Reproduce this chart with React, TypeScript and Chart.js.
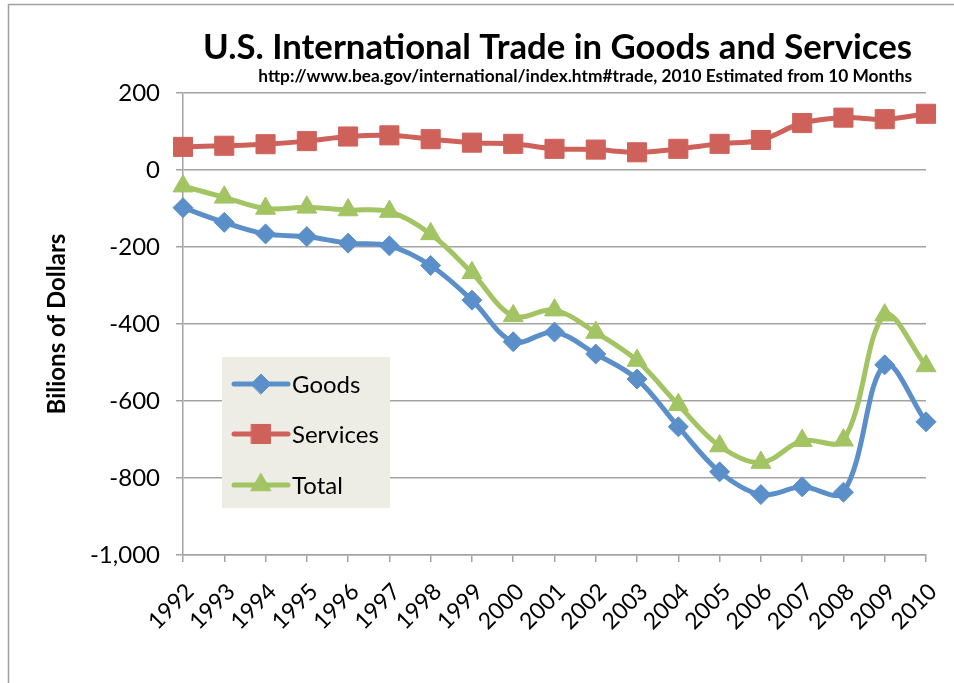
import React, { useEffect, useRef } from 'react';
import { Chart, registerables } from 'chart.js';
import { drawPoint } from 'chart.js/helpers';

Chart.register(...registerables);

const years = ['1992', '1993', '1994', '1995', '1996', '1997', '1998', '1999', '2000', '2001', '2002', '2003', '2004', '2005', '2006', '2007', '2008', '2009', '2010'];
const goods = [-98, -136, -166, -173, -190, -197, -248, -338, -446, -421, -478, -543, -667, -784, -843, -823, -837, -506, -654];
const services = [60, 63, 67, 75, 87, 90, 80, 71, 68, 55, 53, 46, 55, 68, 78, 122, 136, 132, 146];
const total = [-42, -71, -100, -97, -104, -108, -166, -267, -379, -364, -422, -495, -610, -717, -760, -703, -702, -377, -509];

const yMin = -1000;
const yMax = 200;
const yStep = 200;

const titleText = 'U.S. International Trade in Goods and Services';
const subtitleText = 'http://www.bea.gov/international/index.htm#trade, 2010 Estimated from 10 Months';
const yTitle = 'Bilions of Dollars';

const BLUE = '#5B8FCA';
const RED = '#CF615B';
const GREEN = '#A2C462';
const GRID = '#A3A3A3';
const FONT = 'Lato, "Open Sans", sans-serif';

function fitFont(ctx: CanvasRenderingContext2D, text: string, weight: string, width: number) {
  ctx.font = `${weight} 100px ${FONT}`;
  const w = ctx.measureText(text).width;
  return (100 * width) / w;
}

const framePlugin = {
  id: 'frame',
  beforeDraw(chart: any) {
    const ctx = chart.ctx;
    ctx.save();
    ctx.fillStyle = '#ffffff';
    ctx.fillRect(0, 0, chart.width, chart.height);
    ctx.strokeStyle = '#A0A0A0';
    ctx.lineWidth = 1.5;
    ctx.beginPath();
    ctx.moveTo(8.5, chart.height);
    ctx.lineTo(8.5, 4.5);
    ctx.lineTo(chart.width, 4.5);
    ctx.stroke();
    ctx.restore();
  },
};

const titlesPlugin = {
  id: 'titles',
  afterDraw(chart: any) {
    const ctx = chart.ctx;
    ctx.save();
    ctx.fillStyle = '#000';
    ctx.textAlign = 'right';
    ctx.textBaseline = 'alphabetic';
    const ts = fitFont(ctx, titleText, 'bold', 709);
    ctx.font = `bold ${ts}px ${FONT}`;
    ctx.fillText(titleText, 912, 59);
    const ss = fitFont(ctx, subtitleText, 'bold', 654);
    ctx.font = `bold ${ss}px ${FONT}`;
    ctx.fillText(subtitleText, 912, 82);
    ctx.restore();
  },
};

const legendPlugin = {
  id: 'boxLegend',
  afterDatasetsDraw(chart: any) {
    const ctx = chart.ctx;
    const bx = 222, by = 357, bw = 168, bh = 151;
    ctx.save();
    ctx.fillStyle = '#EEEDE5';
    ctx.fillRect(bx, by, bw, bh);
    const rows = [384, 434, 485];
    chart.data.datasets.forEach((ds: any, i: number) => {
      const y = rows[i];
      ctx.strokeStyle = ds.borderColor;
      ctx.lineWidth = ds.borderWidth;
      ctx.lineCap = 'round';
      ctx.beginPath();
      ctx.moveTo(234, y);
      ctx.lineTo(288, y);
      ctx.stroke();
      ctx.fillStyle = ds.pointBackgroundColor;
      ctx.strokeStyle = ds.pointBorderColor;
      ctx.lineWidth = ds.pointBorderWidth;
      drawPoint(ctx, { pointStyle: ds.pointStyle, radius: ds.pointRadius, rotation: 0, borderWidth: ds.pointBorderWidth }, 261, y);
      ctx.fillStyle = '#000';
      ctx.font = `24px ${FONT}`;
      ctx.textAlign = 'left';
      ctx.textBaseline = 'middle';
      ctx.fillText(ds.label, 292, y + 1);
    });
    ctx.restore();
  },
};

export default function App() {
  const ref = useRef<HTMLCanvasElement | null>(null);

  useEffect(() => {
    if (!ref.current) return;
    const mk = (label: string, data: number[], color: string, style: string, radius: number) => ({
      label,
      data,
      borderColor: color,
      backgroundColor: color,
      borderWidth: 5,
      pointStyle: style,
      pointRadius: radius,
      pointHoverRadius: radius,
      pointBackgroundColor: color,
      pointBorderColor: color,
      pointBorderWidth: 1,
      tension: 0.35,
      clip: false as any,
    });
    const chart = new Chart(ref.current, {
      type: 'line',
      data: {
        labels: years,
        datasets: [
          mk('Goods', goods, BLUE, 'rectRot', 10),
          mk('Services', services, RED, 'rect', 13.5),
          mk('Total', total, GREEN, 'triangle', 11.5),
        ],
      },
      options: {
        responsive: false,
        animation: false,
        layout: { padding: { left: 0, right: 28, top: 93, bottom: 0 } },
        plugins: {
          legend: { display: false },
          title: { display: false },
          tooltip: { enabled: false },
        },
        scales: {
          x: {
            offset: false,
            grid: { display: true, drawOnChartArea: false, drawTicks: true, tickLength: 7, color: GRID, lineWidth: 1.5 },
            border: { color: GRID, width: 1.5 },
            ticks: {
              minRotation: 45,
              maxRotation: 45,
              autoSkip: false,
              padding: 16,
              labelOffset: 7,
              color: '#000',
              font: { family: FONT, size: 23 },
            },
            afterFit: (s: any) => { s.height = 128; s.paddingLeft = 0; s.paddingRight = 0; },
          },
          y: {
            min: yMin,
            max: yMax,
            ticks: {
              stepSize: yStep,
              padding: 16,
              color: '#000',
              font: { family: FONT, size: 24 },
              callback: (v: any) => Number(v).toLocaleString('en-US'),
            },
            grid: { color: GRID, lineWidth: 1.5, tickLength: 7, drawTicks: true },
            border: { color: GRID, width: 1.5 },
            title: {
              display: true,
              text: yTitle,
              color: '#000',
              font: { family: FONT, size: 24, weight: 'bold' },
              padding: { top: 43, bottom: 0 },
            },
            afterFit: (s: any) => { s.width = 183; s.paddingTop = 0; s.paddingBottom = 0; },
          },
        },
      },
      plugins: [framePlugin, titlesPlugin, legendPlugin],
    });
    return () => chart.destroy();
  }, []);

  return (
    <div style={{ position: 'absolute', left: 0, top: 0, width: 954, height: 683 }}>
      <canvas ref={ref} width={954} height={683} />
    </div>
  );
}
